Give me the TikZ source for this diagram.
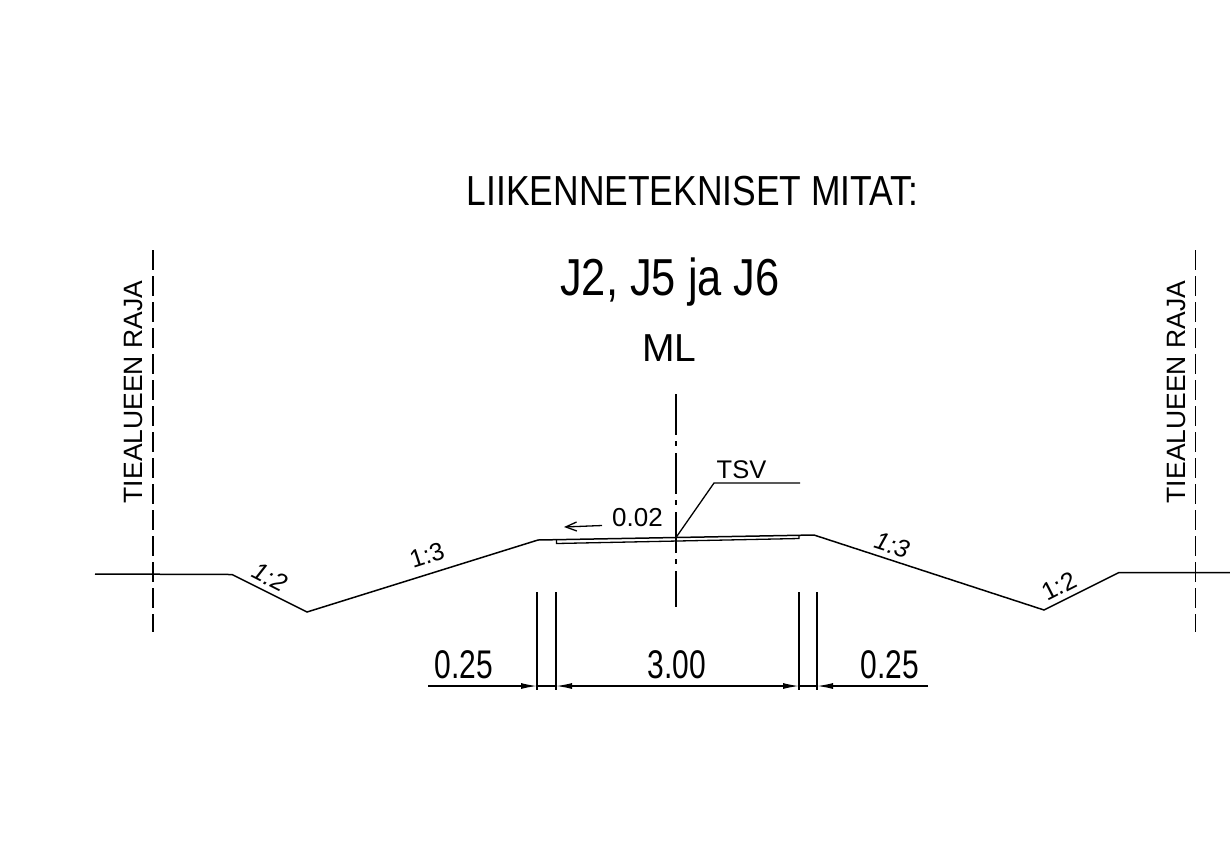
\documentclass[tikz,border=0pt]{standalone}
\usepackage{fontspec}
\setmainfont{Liberation Sans}
\usetikzlibrary{arrows.meta}
\tikzset{
 ln/.style={line width=1.5pt,black},
 thin ln/.style={line width=1.3pt,black},
 rajadash/.style={line width=1.4pt,dash pattern=on 20pt off 6pt},
 cl/.style={line width=1.4pt,dash pattern=on 41pt off 6pt on 5pt off 7pt},
 txt/.style={inner sep=0pt,anchor=center,text=black}
}
\begin{document}
\begin{tikzpicture}[x=1pt,y=-1pt]
\useasboundingbox (0,0) rectangle (1230,855);
% coordinates
\coordinate (p0) at (95,574);
\coordinate (p1) at (232,574.5);
\coordinate (p2) at (307,612);
\coordinate (p3) at (538,540);
\coordinate (pc) at (676,537.5);
\coordinate (p4) at (814,535);
\coordinate (p5) at (1044,610);
\coordinate (p6) at (1119,572.5);
\coordinate (p7) at (1230,572.5);
\draw[ln,line join=miter] (p0) -- (p1) -- (p2) -- (p3) -- (pc) -- (p4) -- (p5) -- (p6) -- (p7);
% layer
\coordinate (l1) at (556.5,539.5);
\coordinate (l2) at (556.5,543.5);
\coordinate (l3) at (799,538.5);
\coordinate (l4) at (799,535);
\draw[thin ln] (l1) -- (l2) -- (l3) -- (l4);
% raja
\coordinate (ra) at (153,250); \coordinate (rb) at (153,632);
\coordinate (rc) at (1195.5,250); \coordinate (rd) at (1195.5,632);
\draw[rajadash] (ra) -- (rb);
\draw[rajadash] (rc) -- (rd);
% centre line
\coordinate (ca) at (676,394); \coordinate (cb) at (676,607);
\draw[cl] (ca) -- (cb);
% leader
\coordinate (t1) at (714,483); \coordinate (t2) at (800,483);
\draw[thin ln] (pc) -- (t1) -- (t2);
% slope arrow
\coordinate (a1) at (602,525.5); \coordinate (a2) at (564,527);
\draw[thin ln,-{Straight Barb[length=11pt,width=9pt]}] (a1) -- (a2);
% dimension lines
\foreach \n/\x in {d1/537,d2/556,d3/799,d4/817}{
 \coordinate (\n t) at (\x,592); \coordinate (\n b) at (\x,690);
 \draw[thin ln] (\n t) -- (\n b);
}
\coordinate (dl) at (428,686); \coordinate (dla) at (537,686);
\coordinate (dr) at (928,686); \coordinate (dra) at (817,686);
\coordinate (dm1) at (556,686); \coordinate (dm2) at (799,686);
\draw[thin ln,-{Latex[length=16pt,width=6pt]}] (dl) -- (dla);
\draw[thin ln,-{Latex[length=16pt,width=6pt]}] (dr) -- (dra);
\draw[thin ln,{Latex[length=16pt,width=6pt]}-{Latex[length=16pt,width=6pt]}] (dm1) -- (dm2);
\draw[thin ln] (d1b |- dl) -- (d2b |- dl);
\draw[thin ln] (d3b |- dl) -- (d4b |- dl);
% texts
\node[txt,font=\fontsize{42}{42}\selectfont,xscale=0.843] (title) at (692.5,191) {LIIKENNETEKNISET MITAT:};
\node[txt,font=\fontsize{52}{52}\selectfont,xscale=0.835] (j) at (670,282) {J2, J5 ja J6};
\node[txt,font=\fontsize{39}{39}\selectfont] (ml) at (669.5,348) {ML};
\node[txt,font=\fontsize{26.5}{26.5}\selectfont,rotate=90] (r1) at (134,392) {TIEALUEEN RAJA};
\node[txt,font=\fontsize{26.5}{26.5}\selectfont,rotate=90] (r2) at (1176,392) {TIEALUEEN RAJA};
\node[txt,font=\fontsize{25.5}{25.5}\selectfont] (tsv) at (741.5,470) {TSV};
\node[txt,font=\fontsize{26}{26}\selectfont] (s) at (637.5,518) {0.02};
\node[txt,font=\fontsize{40}{40}\selectfont,xscale=0.75] (v1) at (464,665) {0.25};
\node[txt,font=\fontsize{40}{40}\selectfont,xscale=0.75] (v2) at (677,665) {3.00};
\node[txt,font=\fontsize{40}{40}\selectfont,xscale=0.75] (v3) at (890,665) {0.25};
\node[txt,font=\fontsize{25}{25}\selectfont\itshape,rotate=-27] (s1) at (270,577) {1:2};
\node[txt,font=\fontsize{25}{25}\selectfont,rotate=18] (s2) at (427,555) {1:3};
\node[txt,font=\fontsize{25}{25}\selectfont\itshape,rotate=-18] (s3) at (892,545) {1:3};
\node[txt,font=\fontsize{25}{25}\selectfont,rotate=27] (s4) at (1059,586) {1:2};
\end{tikzpicture}
\end{document}
